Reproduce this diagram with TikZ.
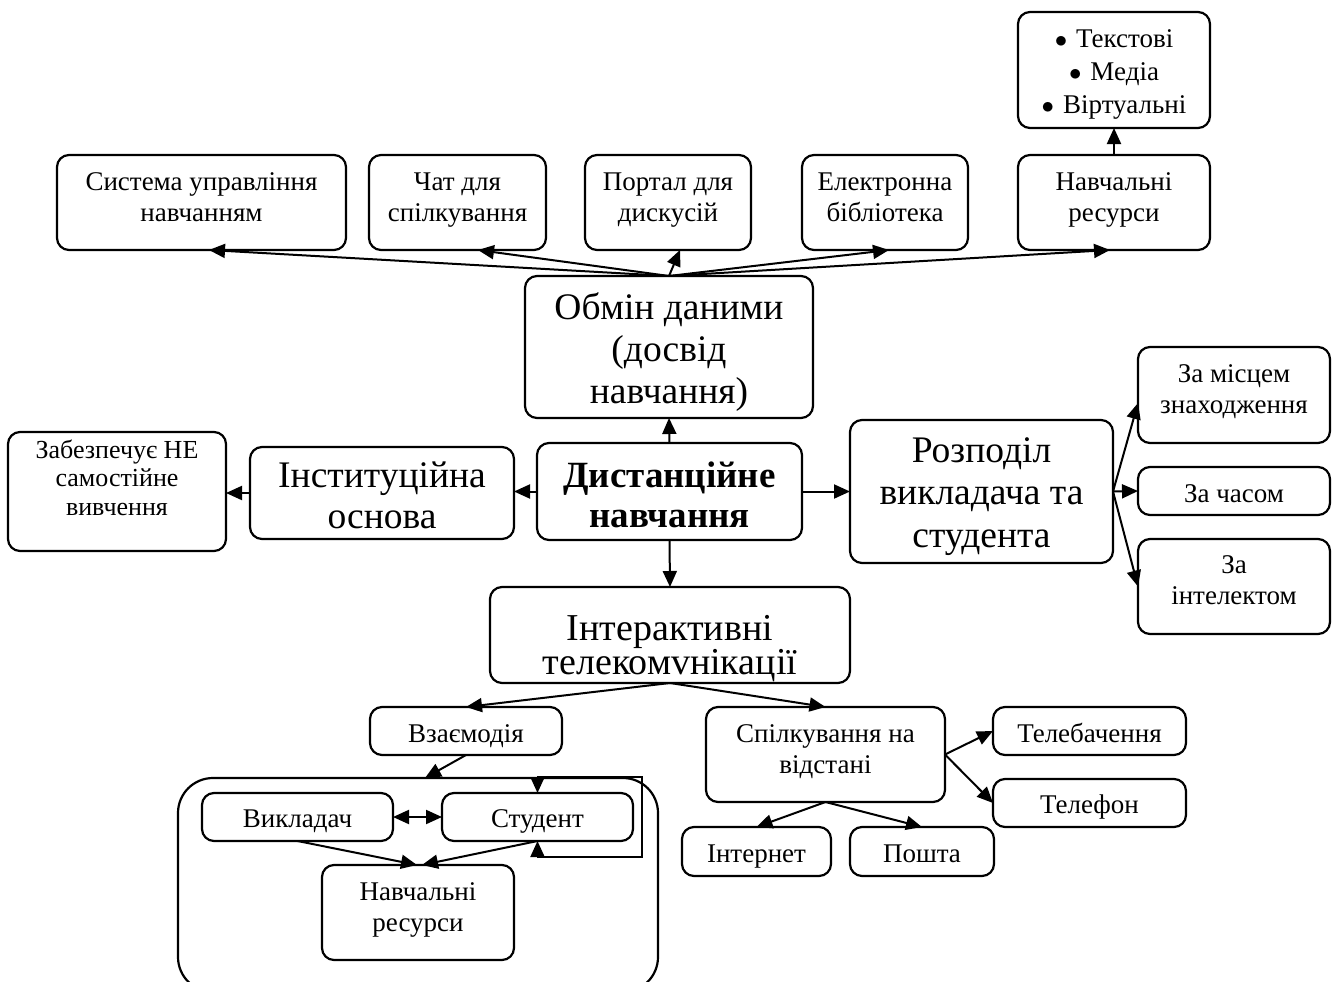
\documentclass[tikz,border=0pt]{standalone}
\usepackage{fontspec}
\setmainfont{Liberation Serif}
\usetikzlibrary{arrows.meta}
% box text: width, height, first-baseline offset, lines
\newcommand{\boxtxt}[4]{\parbox[c][#2pt][t]{#1pt}{\centering\rule{0pt}{#3pt}#4\par}}
\newcommand{\bul}{$\bullet$\hspace{9pt}}
\begin{document}
\begin{tikzpicture}[x=1pt,y=-1pt,
  box/.style={draw, line width=2.2pt, rounded corners=12pt, inner sep=0pt, outer sep=0pt},
  small/.style={font=\fontsize{27}{31}\selectfont},
  big/.style={font=\fontsize{37.5}{42}\selectfont},
  conn/.style={line width=2pt, -{Triangle[length=16pt,width=14pt]}},
  both/.style={line width=2pt, {Triangle[length=16pt,width=14pt]}-{Triangle[length=16pt,width=14pt]}}
]
\useasboundingbox (0,0) rectangle (1334,982);
\clip (0,0) rectangle (1334,982);

% top row
\node[box,small] (sys)  at (201.5,202.5) {\boxtxt{289}{95}{35}{Система управління\\навчанням}};
\node[box,small] (chat) at (457.5,202.5) {\boxtxt{177}{95}{35}{Чат для\\спілкування}};
\node[box,small] (port) at (668,202.5)   {\boxtxt{166}{95}{35}{Портал для\\дискусій}};
\node[box,small] (elib) at (885,202.5)   {\boxtxt{166}{95}{35}{Електронна\\бібліотека}};
\node[box,small] (nres) at (1114,202.5)  {\boxtxt{192}{95}{35}{Навчальні\\ресурси}};
\node[box,font=\fontsize{27}{33}\selectfont] (bul) at (1114,70)
  {\boxtxt{192}{116}{36}{\bul Текстові\\\bul Медіа\\\bul Віртуальні}};

% centre
\node[box,big] (obm) at (669,347) {\boxtxt{288}{142}{43}{Обмін даними\\(досвід\\навчання)}};
\node[box,font=\fontsize{37}{40}\selectfont\bfseries] (dist) at (669.5,491.5)
  {\boxtxt{265}{97}{44}{Дистанційне\\навчання}};
\node[box,font=\fontsize{37.5}{41}\selectfont] (inst) at (382,493) {\boxtxt{264}{92}{40}{Інституційна\\основа}};
\node[box,font=\fontsize{26}{28.5}\selectfont] (zab) at (117,491.5)
  {\boxtxt{218}{119}{26}{Забезпечує НЕ\\самостійне\\вивчення}};
\node[box,font=\fontsize{37.5}{42.5}\selectfont] (rozp) at (981.5,491.5)
  {\boxtxt{263}{143}{42}{Розподіл\\викладача та\\студента}};

% right column
\node[box,small] (mis)   at (1234,395)   {\boxtxt{192}{96}{35}{За місцем\\знаходження}};
\node[box,small] (chas)  at (1234,491)   {\boxtxt{192}{48}{35}{За часом}};
\node[box,small] (intel) at (1234,586.5) {\boxtxt{192}{95}{34}{За\\інтелектом}};

% lower part
\node[box,font=\fontsize{38}{32}\selectfont] (inter) at (670,635)
  {\boxtxt{360}{96}{53}{Інтерактивні\\телекомvнікації}};
\node[box,small] (vzay) at (466,731)     {\boxtxt{192}{48}{35}{Взаємодія}};
\node[box,small] (spil) at (825.5,754.5) {\boxtxt{239}{95}{35}{Спілкування на\\відстані}};
\node[box,small] (tv)   at (1089.5,731)  {\boxtxt{193}{48}{35}{Телебачення}};
\node[box,small] (tel)  at (1089.5,803)  {\boxtxt{193}{48}{34}{Телефон}};
\node[box,small] (inet) at (756.5,851.5) {\boxtxt{149}{49}{35}{Інтернет}};
\node[box,small] (post) at (922,851.5)   {\boxtxt{144}{49}{35}{Пошта}};

% interaction group
\node[draw, line width=2.2pt, rounded corners=35pt, inner sep=0pt, outer sep=0pt,
      minimum width=480pt, minimum height=214pt] (cont) at (418,885) {};
\node[box,small] (vik)   at (297.5,817) {\boxtxt{191}{48}{34}{Викладач}};
\node[box,small] (stud)  at (537.5,817) {\boxtxt{191}{48}{34}{Студент}};
\node[box,small] (nres2) at (418,912.5) {\boxtxt{192}{95}{35}{Навчальні\\ресурси}};
\coordinate (la) at (642,857);
\coordinate (lb) at (642,777);

% connectors
\draw[conn] (obm.north) -- ([xshift=7.5pt]sys.south);
\draw[conn] (obm.north) -- ([xshift=20.5pt]chat.south);
\draw[conn] (obm.north) -- ([xshift=12pt]port.south);
\draw[conn] (obm.north) -- ([xshift=4pt]elib.south);
\draw[conn] (obm.north) -- ([xshift=-4pt]nres.south);
\draw[conn] (nres.north) -- (bul.south);

\draw[conn] (dist.north) -- (obm.south);
\draw[conn] (dist.west) -- (dist.west -| inst.east);
\draw[conn] (inst.west) -- (inst.west -| zab.east);
\draw[conn] (dist.east) -- (dist.east -| rozp.west);
\draw[conn] (dist.south) -- (inter.north);

\draw[conn] (rozp.east) -- ([yshift=-8pt]mis.west);
\draw[conn] (rozp.east) -- (chas.west);
\draw[conn] (rozp.east) -- (intel.west);

\draw[conn] (inter.south) -- (vzay.north);
\draw[conn] (inter.south) -- (spil.north);
\draw[conn] (vzay.south) -- ([xshift=7pt]cont.north);
\draw[conn] (spil.east) -- (tv.west);
\draw[conn] (spil.east) -- (tel.west);
\draw[conn] (spil.south) -- (inet.north);
\draw[conn] (spil.south) -- (post.north);

\draw[both] (vik.east) -- (stud.west);
\draw[conn] (vik.south) -- ([xshift=-1pt]nres2.north);
\draw[conn] (stud.south) -- ([xshift=4pt]nres2.north);
\draw[both] (stud.south) |- (la) -- (lb) -| (stud.north);
\end{tikzpicture}
\end{document}
